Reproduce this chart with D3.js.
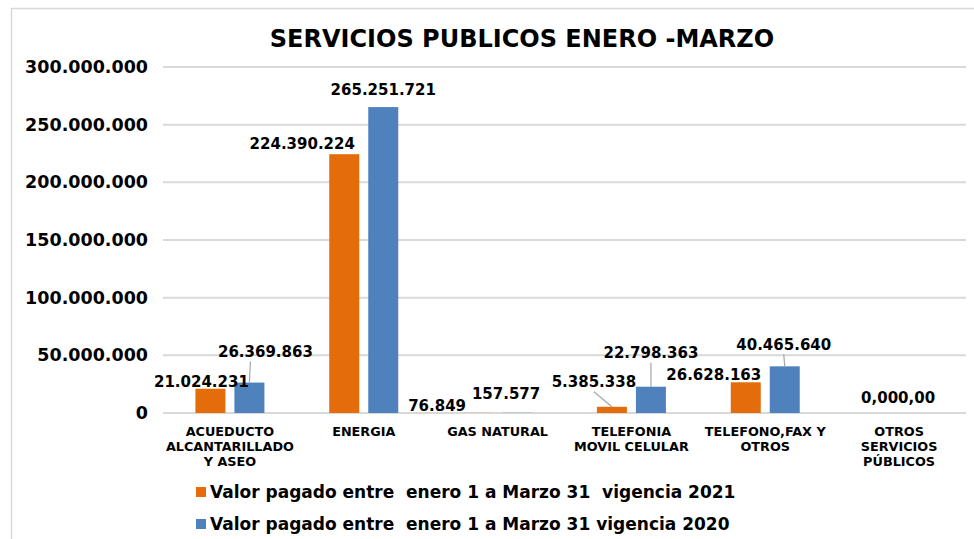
<!DOCTYPE html>
<html>
<head>
<meta charset="utf-8">
<script src="https://cdn.jsdelivr.net/npm/d3@7"></script>
<style>
  body { margin: 0; background: #fff; }
  svg { display: block; font-family: "DejaVu Sans", Verdana, sans-serif; font-weight: bold; }
  text { white-space: pre; }
</style>
</head>
<body>
<svg id="chart" width="974" height="539"></svg>
<script>
// data
const categories = [
    ["ACUEDUCTO", "ALCANTARILLADO", "Y ASEO"],
    ["ENERGIA"],
    ["GAS NATURAL"],
    ["TELEFONIA", "MOVIL CELULAR"],
    ["TELEFONO,FAX Y", "OTROS"],
    ["OTROS", "SERVICIOS", "PÚBLICOS"]
];
const values2021 = [21024231, 224390224, 76849, 5385338, 26628163, 0];
const values2020 = [26369863, 265251721, 157577, 22798363, 40465640, 0];
const seriesNames = [
    "Valor pagado entre  enero 1 a Marzo 31  vigencia 2021",
    "Valor pagado entre  enero 1 a Marzo 31 vigencia 2020"
];
const yTicks = [0, 50000000, 100000000, 150000000, 200000000, 250000000, 300000000];

// label placement (pixel offsets from the bar top centre), leader line flag
const labelOffsets2021 = [[-9, -7, 0], [-42, -10, 0], [-41, -7, 0], [-18, -25, 1], [-32, -8, 0], [0, -15, 0]];
const labelOffsets2020 = [[16, -31, 1], [0, -17, 0], [-11, -19, 0], [0, -34, 1], [-1, -22, 1], [-2, -15, 0]];

const colors = ["#E46C0A", "#4F81BD"];

const svg = d3.select("#chart");

// frame
svg.append("path")
    .attr("d", "M11.5,539 V8.5 H974")
    .attr("fill", "none")
    .attr("stroke", "#d9d9d9")
    .attr("stroke-width", 1.5);

svg.append("text")
    .attr("x", 522)
    .attr("y", 47)
    .attr("text-anchor", "middle")
    .attr("font-size", 24)
    .attr("fill", "#000")
    .text("SERVICIOS PUBLICOS ENERO -MARZO");

const x = d3.scaleBand()
    .domain(d3.range(categories.length))
    .range([163, 966]);

const x1 = d3.scaleBand()
    .domain([0, 1])
    .range([x.bandwidth() / 2 - 34.5, x.bandwidth() / 2 + 34.5])
    .paddingInner(9 / 39);

const y = d3.scaleLinear()
    .domain([0, 300000000])
    .range([413, 67]);

const fmt = (v) => d3.format(",")(v).replace(/,/g, ".");

// grid
svg.append("g")
    .selectAll("line")
    .data(yTicks)
    .join("line")
    .attr("x1", 163)
    .attr("x2", 966)
    .attr("y1", d => y(d))
    .attr("y2", d => y(d))
    .attr("stroke", "#d9d9d9")
    .attr("stroke-width", 2);

// y axis labels
const yAxis = d3.axisLeft(y)
    .tickValues(yTicks)
    .tickSize(0)
    .tickPadding(15)
    .tickFormat(fmt);

svg.append("g")
    .attr("transform", "translate(163,0)")
    .call(yAxis)
    .call(g => g.select(".domain").remove())
    .call(g => g.selectAll("text")
        .attr("font-size", 17.5)
        .attr("font-family", "DejaVu Sans")
        .attr("font-weight", "bold")
        .attr("fill", "#000"));

// bars
const series = [values2021, values2020];
const offsets = [labelOffsets2021, labelOffsets2020];

series.forEach((vals, s) => {
    const g = svg.append("g");
    g.selectAll("rect")
        .data(vals)
        .join("rect")
        .attr("x", (d, i) => x(i) + x1(s))
        .attr("y", d => y(d))
        .attr("width", x1.bandwidth())
        .attr("height", d => y(0) - y(d))
        .attr("fill", colors[s]);
});

// leader lines and data labels
series.forEach((vals, s) => {
    const g = svg.append("g");
    vals.forEach((v, i) => {
        const bx = x(i) + x1(s) + x1.bandwidth() / 2;
        const by = y(v);
        const o = offsets[s][i];
        const lx = bx + o[0];
        const ly = by + o[1];
        if (o[2]) {
            g.append("line")
                .attr("x1", lx + (o[0] > 0 ? -15 : 0))
                .attr("y1", ly + 10)
                .attr("x2", bx)
                .attr("y2", by)
                .attr("stroke", "#a6a6a6")
                .attr("stroke-width", 1.2);
        }
        g.append("text")
            .attr("x", lx)
            .attr("y", ly)
            .attr("dy", "0.35em")
            .attr("text-anchor", "middle")
            .attr("font-size", 15)
            .attr("fill", "#000")
            .text(v === 0 ? "0,00" : fmt(v));
    });
});

// category labels
svg.append("g")
    .selectAll("text")
    .data(categories)
    .join("text")
    .attr("x", (d, i) => x(i) + x.bandwidth() / 2)
    .attr("y", 435.5)
    .attr("text-anchor", "middle")
    .attr("font-size", 12.8)
    .attr("fill", "#000")
    .each(function(lines) {
        d3.select(this).selectAll("tspan")
            .data(lines)
            .join("tspan")
            .attr("x", d3.select(this).attr("x"))
            .attr("dy", (d, j) => j === 0 ? 0 : 15)
            .text(d => d);
    });

// legend
const legend = svg.append("g")
    .selectAll("g")
    .data(seriesNames)
    .join("g")
    .attr("transform", (d, i) => "translate(196," + (487 + i * 32) + ")");

legend.append("rect")
    .attr("width", 10)
    .attr("height", 10)
    .attr("fill", (d, i) => colors[i]);

legend.append("text")
    .attr("x", 14)
    .attr("y", 11)
    .attr("font-size", 17)
    .attr("fill", "#000")
    .text(d => d);
</script>
</body>
</html>
